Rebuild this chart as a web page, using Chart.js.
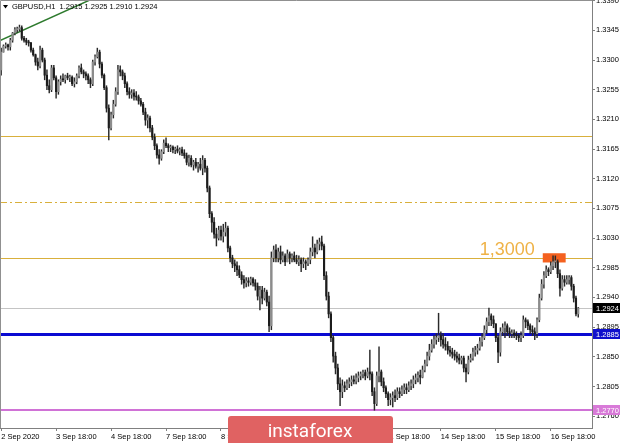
<!DOCTYPE html>
<html>
<head>
<meta charset="utf-8">
<script src="https://cdn.jsdelivr.net/npm/chart.js@4"></script>
<style>
  html, body { margin: 0; padding: 0; background: #fff; }
  #wrap { width: 620px; height: 443px; position: relative; }
</style>
</head>
<body>
<div id="wrap"><canvas id="chart" width="620" height="443"></canvas></div>
<script>
// GBPUSD H1, one entry per hourly bar (open = previous close)
const symbol = "GBPUSD,H1";
const firstOpen = 1.3285;

const highs = [
  1.3318,1.3323,1.3326,1.3324,1.3333,1.3342,1.3349,1.3350,1.3353,1.3352,
  1.3336,1.3333,1.3330,1.3327,1.3318,1.3309,1.3303,1.3321,1.3318,1.3303,
  1.3285,1.3270,1.3292,1.3292,1.3276,1.3270,1.3276,1.3279,1.3277,1.3280,
  1.3277,1.3276,1.3273,1.3279,1.3291,1.3294,1.3285,1.3282,1.3279,1.3273,
  1.3300,1.3308,1.3318,1.3315,1.3297,1.3279,1.3261,1.3232,1.3221,1.3239,
  1.3258,1.3292,1.3291,1.3285,1.3280,1.3267,1.3258,1.3255,1.3255,1.3252,
  1.3247,1.3242,1.3236,1.3227,1.3217,1.3215,1.3201,1.3188,1.3173,1.3164,
  1.3164,1.3179,1.3182,1.3173,1.3171,1.3170,1.3168,1.3170,1.3167,1.3168,
  1.3164,1.3159,1.3156,1.3155,1.3148,1.3151,1.3145,1.3151,1.3155,1.3151,
  1.3139,1.3109,1.3070,1.3061,1.3045,1.3048,1.3048,1.3051,1.3054,1.3048,
  1.3018,1.3004,1.2997,1.2994,1.2988,1.2979,1.2973,1.2970,1.2970,1.2971,
  1.2970,1.2967,1.2962,1.2957,1.2957,1.2954,1.2951,1.2942,1.3009,1.3018,
  1.3020,1.3015,1.3018,1.3009,1.3006,1.3012,1.3009,1.3006,1.3009,1.3004,
  1.3003,1.3000,1.3000,1.2997,1.3000,1.3015,1.3032,1.3021,1.3027,1.3030,
  1.3033,1.3021,1.2979,1.2948,1.2918,1.2882,1.2857,1.2839,1.2818,1.2815,
  1.2812,1.2815,1.2818,1.2821,1.2821,1.2824,1.2827,1.2827,1.2830,1.2830,
  1.2833,1.2860,1.2827,1.2803,1.2827,1.2865,1.2830,1.2818,1.2806,1.2797,
  1.2794,1.2797,1.2800,1.2803,1.2803,1.2806,1.2809,1.2809,1.2812,1.2815,
  1.2821,1.2824,1.2827,1.2830,1.2836,1.2845,1.2857,1.2869,1.2876,1.2882,
  1.2885,1.2916,1.2888,1.2885,1.2879,1.2873,1.2866,1.2863,1.2860,1.2857,
  1.2854,1.2851,1.2851,1.2839,1.2851,1.2854,1.2863,1.2866,1.2869,1.2879,
  1.2885,1.2897,1.2909,1.2924,1.2915,1.2912,1.2900,1.2882,1.2894,1.2900,
  1.2903,1.2900,1.2894,1.2891,1.2891,1.2888,1.2885,1.2888,1.2912,1.2909,
  1.2906,1.2900,1.2897,1.2894,1.2909,1.2945,1.2967,1.2979,1.2988,1.2985,
  1.2994,1.3003,1.3003,1.2997,1.2982,1.2973,1.2973,1.2973,1.2973,1.2973,
  1.2960,1.2942,1.2925
];

const lows = [
  1.3277,1.3312,1.3318,1.3315,1.3315,1.3327,1.3338,1.3342,1.3344,1.3330,
  1.3327,1.3323,1.3321,1.3312,1.3306,1.3292,1.3285,1.3288,1.3297,1.3270,
  1.3255,1.3250,1.3252,1.3270,1.3242,1.3248,1.3262,1.3267,1.3265,1.3270,
  1.3267,1.3261,1.3259,1.3264,1.3273,1.3279,1.3273,1.3270,1.3264,1.3258,
  1.3261,1.3292,1.3303,1.3288,1.3273,1.3255,1.3221,1.3179,1.3194,1.3212,
  1.3230,1.3248,1.3276,1.3270,1.3258,1.3247,1.3242,1.3242,1.3239,1.3239,
  1.3233,1.3230,1.3217,1.3201,1.3197,1.3191,1.3179,1.3164,1.3151,1.3142,
  1.3148,1.3158,1.3167,1.3161,1.3161,1.3159,1.3158,1.3159,1.3156,1.3155,
  1.3151,1.3141,1.3139,1.3138,1.3133,1.3136,1.3130,1.3133,1.3126,1.3130,
  1.3100,1.3061,1.3039,1.3030,1.3018,1.3027,1.3027,1.3024,1.3033,1.3009,
  1.2994,1.2985,1.2979,1.2973,1.2970,1.2960,1.2954,1.2956,1.2957,1.2959,
  1.2957,1.2951,1.2936,1.2921,1.2930,1.2936,1.2927,1.2888,1.2891,1.2994,
  1.2994,1.2994,1.2991,1.2994,1.2988,1.2994,1.2991,1.2994,1.2994,1.2991,
  1.2988,1.2979,1.2985,1.2982,1.2988,1.2991,1.3003,1.3000,1.3006,1.3012,
  1.3012,1.2967,1.2936,1.2909,1.2873,1.2842,1.2824,1.2800,1.2776,1.2788,
  1.2797,1.2800,1.2803,1.2806,1.2809,1.2809,1.2812,1.2815,1.2818,1.2815,
  1.2818,1.2815,1.2791,1.2769,1.2776,1.2812,1.2806,1.2797,1.2788,1.2776,
  1.2777,1.2774,1.2782,1.2785,1.2788,1.2791,1.2794,1.2794,1.2797,1.2800,
  1.2803,1.2809,1.2812,1.2809,1.2818,1.2827,1.2836,1.2845,1.2857,1.2863,
  1.2869,1.2873,1.2866,1.2863,1.2860,1.2854,1.2851,1.2848,1.2845,1.2842,
  1.2839,1.2839,1.2827,1.2812,1.2824,1.2842,1.2845,1.2851,1.2854,1.2860,
  1.2866,1.2876,1.2885,1.2897,1.2897,1.2894,1.2873,1.2841,1.2851,1.2882,
  1.2879,1.2882,1.2879,1.2879,1.2879,1.2876,1.2873,1.2873,1.2879,1.2894,
  1.2891,1.2885,1.2882,1.2876,1.2879,1.2903,1.2936,1.2954,1.2970,1.2973,
  1.2976,1.2982,1.2985,1.2970,1.2942,1.2951,1.2957,1.2960,1.2960,1.2951,
  1.2933,1.2912,1.2910
];

const closes = [
  1.3312,1.3321,1.3323,1.3320,1.3330,1.3341,1.3346,1.3347,1.3349,1.3333,
  1.3330,1.3327,1.3326,1.3315,1.3308,1.3297,1.3291,1.3315,1.3300,1.3277,
  1.3261,1.3255,1.3288,1.3273,1.3252,1.3267,1.3271,1.3270,1.3276,1.3273,
  1.3274,1.3264,1.3267,1.3276,1.3288,1.3282,1.3279,1.3276,1.3270,1.3264,
  1.3297,1.3305,1.3312,1.3294,1.3277,1.3258,1.3227,1.3197,1.3217,1.3233,
  1.3252,1.3285,1.3282,1.3276,1.3264,1.3252,1.3248,1.3250,1.3245,1.3244,
  1.3238,1.3233,1.3221,1.3209,1.3212,1.3197,1.3183,1.3170,1.3156,1.3151,
  1.3161,1.3174,1.3170,1.3167,1.3168,1.3164,1.3165,1.3162,1.3164,1.3159,
  1.3155,1.3145,1.3151,1.3141,1.3145,1.3139,1.3142,1.3136,1.3148,1.3136,
  1.3106,1.3067,1.3054,1.3036,1.3030,1.3042,1.3033,1.3039,1.3045,1.3015,
  1.3000,1.2991,1.2988,1.2982,1.2974,1.2967,1.2962,1.2965,1.2963,1.2968,
  1.2962,1.2957,1.2942,1.2951,1.2939,1.2948,1.2933,1.2897,1.3000,1.3012,
  1.3000,1.3009,1.2997,1.3003,1.2994,1.3006,1.3000,1.3003,1.2997,1.2994,
  1.2997,1.2991,1.2994,1.2992,1.2997,1.3009,1.3015,1.3009,1.3021,1.3024,
  1.3018,1.2973,1.2942,1.2915,1.2879,1.2851,1.2833,1.2809,1.2797,1.2806,
  1.2803,1.2809,1.2812,1.2815,1.2813,1.2818,1.2821,1.2824,1.2826,1.2821,
  1.2827,1.2824,1.2797,1.2779,1.2821,1.2827,1.2812,1.2803,1.2794,1.2785,
  1.2788,1.2791,1.2788,1.2797,1.2794,1.2800,1.2803,1.2800,1.2806,1.2809,
  1.2815,1.2818,1.2822,1.2819,1.2830,1.2839,1.2851,1.2860,1.2869,1.2876,
  1.2879,1.2882,1.2876,1.2869,1.2866,1.2860,1.2857,1.2854,1.2851,1.2848,
  1.2845,1.2848,1.2833,1.2827,1.2845,1.2848,1.2857,1.2860,1.2863,1.2873,
  1.2879,1.2891,1.2903,1.2912,1.2906,1.2900,1.2879,1.2857,1.2888,1.2894,
  1.2897,1.2888,1.2885,1.2886,1.2883,1.2882,1.2879,1.2882,1.2906,1.2903,
  1.2897,1.2891,1.2888,1.2885,1.2906,1.2939,1.2960,1.2973,1.2982,1.2979,
  1.2988,1.2994,1.2994,1.2976,1.2954,1.2967,1.2963,1.2967,1.2970,1.2957,
  1.2939,1.2915,1.2924
];

// time axis: bar index of each label
const timeTicks = [0, 24, 48, 72, 96, 120, 144, 168, 192, 216, 240];
const timeLabels = ["2 Sep 2020", "3 Sep 18:00", "4 Sep 18:00", "7 Sep 18:00", "8 Sep 18:00",
  "9 Sep 18:00", "10 Sep 18:00", "11 Sep 18:00", "14 Sep 18:00", "15 Sep 18:00", "16 Sep 18:00"];

const priceTicks = [1.2760, 1.2805, 1.2850, 1.2895, 1.2940, 1.2985, 1.3030, 1.3075,
  1.3120, 1.3165, 1.3210, 1.3255, 1.3300, 1.3345, 1.3390];

// horizontal levels
const goldLevels = [1.3185, 1.3000];
const dashLevel = 1.3085;
const bidLevel = 1.2924;
const blueLevel = 1.2885;
const pinkLevel = 1.2770;
const levelText = "1,3000";

// trend line (bar index, price) and the resistance box
const trendFrom = [0, 1.3330];
const trendTo = [40, 1.3393];
const boxBars = [236.5, 246.5];
const boxPrices = [1.2993, 1.3007];

const opens = closes.map((c, i) => i === 0 ? firstOpen : closes[i - 1]);
const bodies = closes.map((c, i) => ({ x: i, y: [opens[i], c] }));
const wicks = closes.map((c, i) => ({
  x: i,
  y: [Math.min(lows[i], opens[i], c), Math.max(highs[i], opens[i], c)]
}));
const bodyColors = closes.map((c, i) => c >= opens[i] ? "#8c8c8c" : "#1c1c1c");

const axisFont = { family: "Liberation Sans", size: 7.5 };
const GOLD = "#d9b03c";

const overlay = {
  id: "overlay",
  beforeDatasetsDraw(chart) {
    const { ctx, chartArea: a, scales: { x, y } } = chart;
    ctx.save();
    ctx.beginPath();
    ctx.rect(a.left, a.top, a.right - a.left, a.bottom - a.top);
    ctx.clip();

    const hline = (p, color, w, dash) => {
      const py = Math.round(y.getPixelForValue(p)) + (w % 2 ? 0.5 : 0);
      ctx.strokeStyle = color;
      ctx.lineWidth = w;
      ctx.setLineDash(dash || []);
      ctx.beginPath();
      ctx.moveTo(a.left, py);
      ctx.lineTo(a.right, py);
      ctx.stroke();
    };
    goldLevels.forEach(p => hline(p, GOLD, 1));
    hline(dashLevel, GOLD, 1, [7, 3, 2, 3]);
    hline(bidLevel, "#c4c4c4", 1);
    hline(blueLevel, "#0a0ad2", 3);
    hline(pinkLevel, "#d072d6", 2);
    ctx.setLineDash([]);

    // resistance box
    const bx0 = x.getPixelForValue(boxBars[0]);
    const bx1 = x.getPixelForValue(boxBars[1]);
    const by0 = y.getPixelForValue(boxPrices[1]);
    const by1 = y.getPixelForValue(boxPrices[0]);
    ctx.fillStyle = "#f4611f";
    ctx.fillRect(bx0, by0, bx1 - bx0, by1 - by0);

    // trend line
    ctx.strokeStyle = "#2d7a2d";
    ctx.lineWidth = 1.5;
    ctx.beginPath();
    ctx.moveTo(x.getPixelForValue(trendFrom[0] - 0.5), y.getPixelForValue(trendFrom[1] - 0.00007));
    ctx.lineTo(x.getPixelForValue(trendTo[0]), y.getPixelForValue(trendTo[1]));
    ctx.stroke();

    // level caption
    ctx.fillStyle = "#efb246";
    ctx.font = "18px 'Liberation Sans'";
    ctx.textAlign = "left";
    ctx.textBaseline = "alphabetic";
    ctx.fillText(levelText, x.getPixelForValue(209), y.getPixelForValue(1.3000) - 3);
    ctx.restore();
  },
  afterDraw(chart) {
    const { ctx, chartArea: a, scales: { y } } = chart;
    ctx.save();
    // frame
    ctx.strokeStyle = "#909090";
    ctx.lineWidth = 1;
    ctx.beginPath();
    ctx.moveTo(0.5, a.bottom);
    ctx.lineTo(0.5, 0.5);
    ctx.lineTo(a.right, 0.5);
    ctx.stroke();

    // price badges on the axis
    const badge = (p, bg) => {
      const py = Math.round(y.getPixelForValue(p));
      ctx.fillStyle = bg;
      ctx.fillRect(a.right + 1, py - 5, 620 - a.right, 10);
      ctx.fillStyle = "#ffffff";
      ctx.font = "7.5px 'Liberation Sans'";
      ctx.textBaseline = "middle";
      ctx.textAlign = "left";
      ctx.fillText(p.toFixed(4), a.right + 4, py + 0.5);
    };
    badge(bidLevel, "#000000");
    badge(blueLevel, "#1010cc");
    badge(pinkLevel, "#d87ad8");

    // header
    const n = closes.length - 1;
    ctx.fillStyle = "#000";
    ctx.beginPath();
    ctx.moveTo(3, 5);
    ctx.lineTo(8, 5);
    ctx.lineTo(5.5, 8.5);
    ctx.closePath();
    ctx.fill();
    ctx.font = "7.5px 'Liberation Sans'";
    ctx.textBaseline = "middle";
    ctx.fillText(symbol + "  " + [opens[n], highs[n], lows[n], closes[n]].map(v => v.toFixed(4)).join(" "), 12, 7);

    // watermark logo
    ctx.fillStyle = "#e06262";
    ctx.beginPath();
    ctx.roundRect(228, 416, 165, 30, 3);
    ctx.fill();
    ctx.fillStyle = "#ffffff";
    ctx.font = "19px Roboto";
    ctx.textAlign = "center";
    ctx.textBaseline = "alphabetic";
    ctx.fillText("instaforex", 310, 437);
    ctx.restore();
  }
};

new Chart(document.getElementById("chart"), {
  type: "bar",
  data: {
    datasets: [
      { data: wicks, backgroundColor: "#2a2a2a", barThickness: 0.8, grouped: false, order: 2 },
      { data: bodies, backgroundColor: bodyColors, barThickness: 1.5, grouped: false, minBarLength: 1, order: 1 }
    ]
  },
  options: {
    responsive: false,
    animation: false,
    layout: { padding: 0 },
    plugins: { legend: { display: false }, tooltip: { enabled: false } },
    scales: {
      x: {
        type: "linear",
        offset: false,
        min: -0.5,
        max: 258,
        grid: { drawOnChartArea: false, tickLength: 3, color: "#808080", offset: false },
        border: { color: "#808080" },
        afterBuildTicks: s => { s.ticks = timeTicks.map(v => ({ value: v })); },
        afterFit: s => { s.height = 15; s.paddingLeft = 0; s.paddingRight = 0; },
        ticks: {
          autoSkip: false, maxRotation: 0, align: "start", padding: 1,
          font: axisFont, color: "#000",
          callback: v => timeLabels[timeTicks.indexOf(v)]
        }
      },
      y: {
        position: "right",
        min: 1.2742,
        max: 1.3391,
        grid: { drawOnChartArea: false, tickLength: 3, color: "#808080" },
        border: { color: "#808080" },
        afterBuildTicks: s => { s.ticks = priceTicks.map(v => ({ value: v })); },
        afterFit: s => { s.width = 28; s.paddingTop = 0; s.paddingBottom = 0; },
        ticks: {
          autoSkip: false, padding: 1, font: axisFont, color: "#000",
          callback: v => v.toFixed(4)
        }
      }
    }
  },
  plugins: [overlay]
});
</script>
</body>
</html>
